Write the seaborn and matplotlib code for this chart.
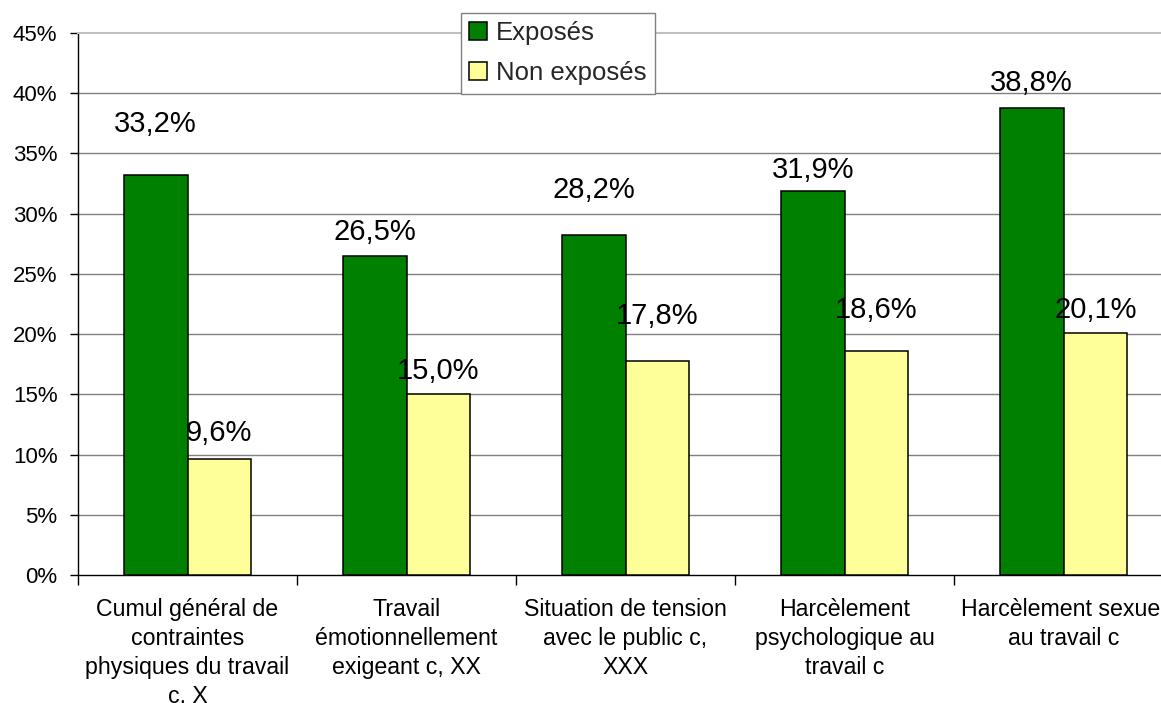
import pandas as pd
import seaborn as sns
import matplotlib.pyplot as plt
from matplotlib.ticker import PercentFormatter, FixedLocator

categories = [
    "Cumul général de\ncontraintes\nphysiques du travail\nc, X",
    "Travail\némotionnellement\nexigeant c, XX",
    "Situation de tension\navec le public c,\nXXX",
    "Harcèlement\npsychologique au\ntravail c",
    "Harcèlement sexuel\nau travail c",
]
exposes = [33.2, 26.5, 28.2, 31.9, 38.8]
non_exposes = [9.6, 15.0, 17.8, 18.6, 20.1]
groups = ["Exposés", "Non exposés"]
# gap between bar top and label baseline, in points
label_lift = [[31, 11.5, 27, 9.5, 12], [13, 11, 26, 24, 11]]

df = pd.DataFrame({
    "cat": categories * 2,
    "val": exposes + non_exposes,
    "grp": [groups[0]] * 5 + [groups[1]] * 5,
})

sns.set_theme(style="white")
plt.rcParams['font.family'] = ['Liberation Sans', 'DejaVu Sans']

fig = plt.figure(figsize=(11.61, 7.03), dpi=100)
ax = fig.add_axes([78 / 1161, 128 / 703, 1095 / 1161, 542 / 703])

sns.barplot(data=df, x="cat", y="val", hue="grp", palette=["#008000", "#FFFF99"],
            saturation=1, width=0.58, edgecolor="black", linewidth=1.1, ax=ax,
            legend=True, zorder=3)

for cont, lifts in zip(ax.containers, label_lift):
    for bar, lift in zip(cont, lifts):
        h = bar.get_height()
        ax.annotate(f"{h:.1f}%".replace(".", ","), (bar.get_x() + bar.get_width() / 2, h),
                    xytext=(0, lift), textcoords="offset points", ha="center", va="baseline",
                    fontsize=21, color="black", zorder=5)

ax.set_ylim(0, 45)
ax.set_xlim(-0.5, 4.5)
ax.yaxis.set_major_locator(FixedLocator(range(0, 46, 5)))
ax.yaxis.set_major_formatter(PercentFormatter(decimals=0))
ax.tick_params(axis="y", which="major", left=True, length=5.8, width=1, color="black",
               labelsize=16, pad=9, labelcolor="black")
ax.set_xticks(range(5))
ax.set_xticklabels(categories, fontsize=16.7, linespacing=1.33, color="black")
ax.tick_params(axis="x", which="major", length=0, pad=16.5)
ax.xaxis.set_minor_locator(FixedLocator([-0.5, 0.5, 1.5, 2.5, 3.5]))
ax.tick_params(axis="x", which="minor", bottom=True, length=7, width=1, color="black")
ax.set_xlabel("")
ax.set_ylabel("")

for y in range(5, 45, 5):
    ax.axhline(y, color="#808080", linewidth=1, zorder=1)

for side in ["left", "bottom"]:
    ax.spines[side].set_color("black")
    ax.spines[side].set_linewidth(1)
ax.spines["top"].set_color("#c0c0c0")
ax.spines["top"].set_linewidth(1.5)
ax.spines["right"].set_visible(False)

ax.get_legend().remove()
handles = ax.containers
leg = fig.legend([handles[0][0], handles[1][0]], groups, loc="upper left",
                 bbox_to_anchor=(461 / 1161, 1 - 13 / 703), fontsize=18.5, frameon=True,
                 fancybox=False, edgecolor="#808080", framealpha=1, handlelength=0.7,
                 handleheight=0.7, handletextpad=0.35, borderpad=0.32, labelspacing=0.63,
                 borderaxespad=0)
leg.get_frame().set_linewidth(1)

fig.savefig("out.png", dpi=100)
